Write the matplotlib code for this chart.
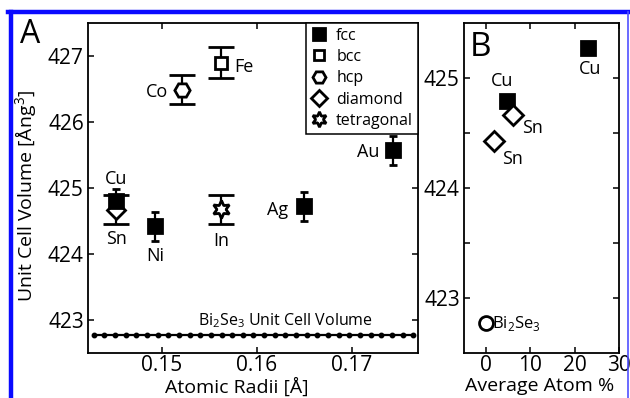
import numpy as np
import matplotlib
matplotlib.use('Agg')
from matplotlib import pyplot as plt
from matplotlib.lines import Line2D

plt.rcParams['font.family'] = ['Open Sans', 'DejaVu Sans']
plt.rcParams['mathtext.fontset'] = 'custom'
plt.rcParams['mathtext.rm'] = 'Open Sans'

# panel A: dopant atomic radius vs unit cell volume
elements = ['Cu', 'Ni', 'Ag', 'Au', 'Fe', 'Co', 'Sn', 'In']
structure = ['fcc', 'fcc', 'fcc', 'fcc', 'bcc', 'hcp', 'diamond', 'tetragonal']
radius = [0.1452, 0.1493, 0.1650, 0.1744, 0.1562, 0.1521, 0.1452, 0.1562]
volume = [424.80, 424.42, 424.72, 425.57, 426.90, 426.49, 424.67, 424.68]
vol_err = [0.18, 0.22, 0.22, 0.22, 0.23, 0.22, 0.22, 0.22]
bise_volume = 422.77
bise_x = np.linspace(0.1428, 0.1765, 31)

# panel B: average atom % vs unit cell volume
b_labels = ['Cu', 'Cu', 'Sn', 'Sn']
b_struct = ['fcc', 'fcc', 'diamond', 'diamond']
b_atom = [4.8, 23.0, 6.1, 1.8]
b_volume = [424.79, 425.27, 424.66, 424.43]
bise_atom = 0.0

styles = {
    'fcc':        dict(marker='s', mfc='k', ms=10, cap=3),
    'bcc':        dict(marker='s', mfc='w', ms=9, cap=9.5),
    'hcp':        dict(marker='H', mfc='w', ms=11, cap=9.5),
    'diamond':    dict(marker='D', mfc='w', ms=9, cap=9.5),
    'tetragonal': dict(marker=(6, 1, 0), mfc='w', ms=13, cap=9.5),
}
# label offsets (points) for each data label
a_offsets = {'Cu': (0, 16), 'Ni': (0, -21.5), 'Ag': (-19.5, -2.5), 'Au': (-18, -1),
             'Fe': (17, -3.5), 'Co': (-18, -2), 'Sn': (0, -21), 'In': (0, -23)}
b_offsets = [(-3.6, 14.4), (1.4, -15), (13.7, -9.4), (13, -13)]

fig = plt.figure(figsize=(6.3, 3.98), dpi=100)
axA = fig.add_axes([88/630, 45/398, 330/630, 330/398])
axB = fig.add_axes([464/630, 45/398, 155/630, 330/398])

# reference Bi2Se3 volume line
axA.plot(bise_x, np.full(len(bise_x), bise_volume), 'k-', lw=1.6, marker='o', ms=3.2)
axA.annotate('Bi$_2$Se$_3$ Unit Cell Volume', (0.1630, bise_volume), xytext=(0, 4),
             textcoords='offset points', ha='center', va='bottom', fontsize=11.5)

order = ['tetragonal', 'diamond', 'hcp', 'bcc', 'fcc']
for st in order:
    s = styles[st]
    idx = [i for i, v in enumerate(structure) if v == st]
    xs = [radius[i] for i in idx]; ys = [volume[i] for i in idx]; es = [vol_err[i] for i in idx]
    axA.errorbar(xs, ys, yerr=es, fmt='none', ecolor='k', elinewidth=1.6,
                 capsize=s['cap'], capthick=2.0, zorder=2)
for st in order:
    s = styles[st]
    idx = [i for i, v in enumerate(structure) if v == st]
    xs = [radius[i] for i in idx]; ys = [volume[i] for i in idx]
    axA.plot(xs, ys, ls='none', marker=s['marker'], mfc=s['mfc'], mec='k',
             ms=s['ms'], mew=2.0, zorder=3)

for i, el in enumerate(elements):
    axA.annotate(el, (radius[i], volume[i]), xytext=a_offsets[el], textcoords='offset points',
                 ha='center', va='center', fontsize=13)

handles = []
for st in ['fcc', 'bcc', 'hcp', 'diamond', 'tetragonal']:
    s = styles[st]
    handles.append(Line2D([], [], ls='none', marker=s['marker'], mfc=s['mfc'], mec='k',
                          ms=s['ms'] * 0.85, mew=2.0, label=st))
leg = axA.legend(handles=handles, loc='upper right', borderaxespad=0, fontsize=11.5,
                 fancybox=False, framealpha=1, edgecolor='k', handlelength=1.0,
                 handletextpad=0.6, labelspacing=0.33, borderpad=0.3)
leg.get_frame().set_linewidth(1.1)

axA.set_xlim(0.1422, 0.177)
axA.set_ylim(422.5, 427.5)
axA.set_xticks([0.15, 0.16, 0.17])
axA.set_xticklabels(['0.15', '0.16', '0.17'])
axA.set_yticks([423, 424, 425, 426, 427])
axA.set_xlabel('Atomic Radii [Å]', fontsize=14)
axA.set_ylabel('Unit Cell Volume [Ång$^3$]', fontsize=14)
axA.xaxis.set_label_coords(0.45, -0.073)
axA.yaxis.set_label_coords(-0.145, 0.475)

# panel B
for i in range(len(b_atom)):
    s = styles[b_struct[i]]
    axB.plot(b_atom[i], b_volume[i], ls='none', marker=s['marker'], mfc=s['mfc'], mec='k',
             ms=s['ms'] * 1.15 if b_struct[i] == 'diamond' else 10.5, mew=2.0)
    axB.annotate(b_labels[i], (b_atom[i], b_volume[i]), xytext=b_offsets[i],
                 textcoords='offset points', ha='center', va='center', fontsize=13)
axB.plot(bise_atom, bise_volume, ls='none', marker='o', mfc='w', mec='k', ms=10, mew=2.0)
axB.annotate('Bi$_2$Se$_3$', (bise_atom, bise_volume), xytext=(4, 0),
             textcoords='offset points', ha='left', va='center', fontsize=12)
axB.set_xlim(-5, 30)
axB.set_ylim(422.5, 425.5)
axB.set_xticks([0, 10, 20, 30])
axB.set_yticks([423, 423.5, 424, 424.5, 425])
axB.set_yticklabels(['423', '', '424', '', '425'])
axB.set_xlabel('Average Atom %', fontsize=14)
axB.xaxis.set_label_coords(0.49, -0.073)

for ax in (axA, axB):
    ax.tick_params(direction='in', top=True, right=True, length=4, width=1.1,
                   labelsize=15, pad=3)
    ax.tick_params(axis='x', pad=1.5)
    for sp in ax.spines.values():
        sp.set_linewidth(1.3)

fig.text(20/630, 1 - 43/398, 'A', fontsize=23, ha='left', va='baseline')
axB.text(0.04, 0.90, 'B', transform=axB.transAxes, fontsize=24, ha='left', va='baseline')

# blue frame around the figure
W, H = 630, 398
fig.add_artist(Line2D([8/W, 1], [1 - 12/H, 1 - 12/H], color='#0a0aff', lw=3.2))
fig.add_artist(Line2D([10.5/W, 10.5/W], [0, 1 - 12/H], color='#0a0aff', lw=3.2))
fig.add_artist(Line2D([628/W, 628/W], [0, 1 - 12/H], color='#5050ff', lw=1.2))

fig.savefig('out.png', dpi=100)
